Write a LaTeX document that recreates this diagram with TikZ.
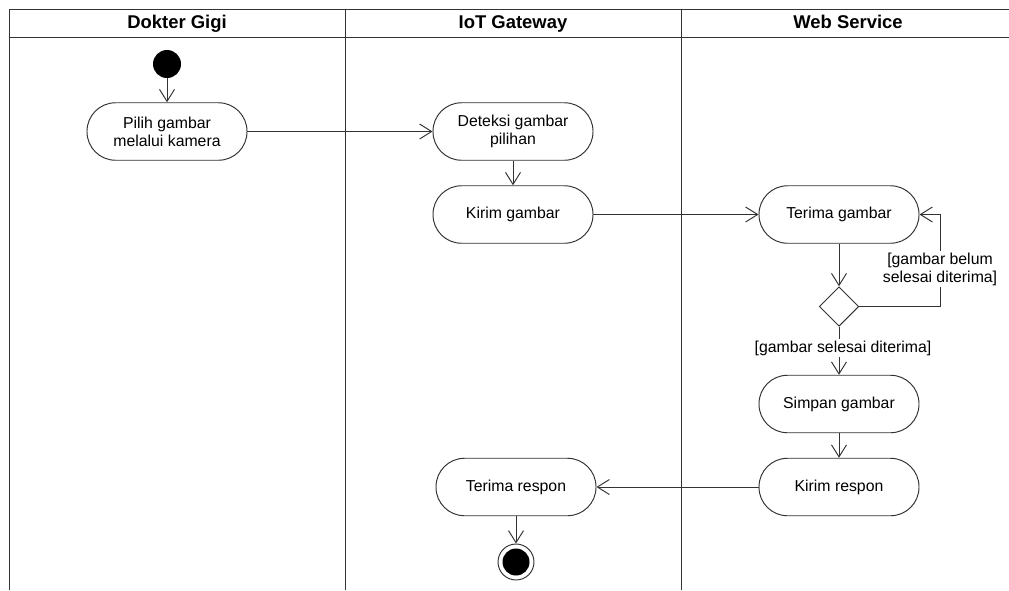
\documentclass[tikz,border=0pt]{standalone}
\usepackage{fontspec}
\setmainfont{Liberation Sans}
\usetikzlibrary{arrows.meta,shapes.geometric}

\tikzset{
	garis/.style={draw=black!80, line width=0.55pt},
	aksi/.style={garis, rectangle, rounded corners=0.57cm, minimum width=3.2cm, minimum height=1.15cm, align=center, font=\fontsize{9}{10.3}\selectfont, fill=white},
	mulai/.style={circle, fill=black, minimum size=0.56cm, inner sep=0pt},
	akhir/.style={circle, garis, fill=white, minimum size=0.72cm, inner sep=0pt, path picture={\fill[black] (path picture bounding box.center) circle (0.27);}},
	keputusan/.style={garis, diamond, minimum size=0.79cm, inner sep=0pt},
	judul/.style={anchor=base, font=\fontsize{10.5}{12}\selectfont\bfseries},
	syarat/.style={fill=white, align=center, inner sep=1pt, font=\fontsize{9}{10.3}\selectfont},
	panah/.style={garis, -{Straight Barb[length=2.4mm,width=3mm,line width=0.55pt]}}
}

\begin{document}
\begin{tikzpicture}
				\useasboundingbox (0,0) rectangle (20.18,-11.8);
				% swimlanes
				\draw[garis] (20.18,-0.18) -- (0.18,-0.18) -- (0.18,-11.8);
				\draw[garis] (0.18,-0.74) -- (20.18,-0.74);
				\draw[garis] (6.9,-0.18) -- (6.9,-11.8);
				\draw[garis] (13.62,-0.18) -- (13.62,-11.8);
				\node[judul] (lane1) at (3.54,-0.57) {Dokter Gigi};
				\node[judul] (lane2) at (10.26,-0.57) {IoT Gateway};
				\node[judul] (lane3) at (16.96,-0.57) {Web Service};
				
				% nodes
				\node[mulai] (start) at (3.34,-1.28) {};
				\node[aksi] (pilih) at (3.34,-2.63) {Pilih gambar\\melalui kamera};
				\node[aksi] (deteksi) at (10.26,-2.63) {Deteksi gambar\\pilihan};
				\node[aksi] (kirim) at (10.26,-4.29) {Kirim gambar};
				\node[aksi] (terima) at (16.78,-4.29) {Terima gambar};
				\node[keputusan] (cek) at (16.78,-6.13) {};
				\node[aksi] (simpan) at (16.78,-8.08) {Simpan gambar};
				\node[aksi] (kirimrespon) at (16.78,-9.74) {Kirim respon};
				\node[aksi] (terimarespon) at (10.32,-9.74) {Terima respon};
				\node[akhir] (end) at (10.32,-11.24) {};
				\coordinate (ulang1) at (18.8,-6.13);
				\coordinate (ulang2) at (18.8,-4.29);
				
				% arrows
				\draw[panah] (start) -- (pilih);
				\draw[panah] (pilih) -- (deteksi);
				\draw[panah] (deteksi) -- (kirim);
				\draw[panah] (kirim) -- (terima);
				\draw[panah] (terima) -- (cek);
				\draw[panah] (cek.east) -- (ulang1) -- (ulang2) -- (terima.east);
				\draw[panah] (cek) -- (simpan);
				\draw[panah] (simpan) -- (kirimrespon);
				\draw[panah] (kirimrespon) -- (terimarespon);
				\draw[panah] (terimarespon) -- (end);
				
				\node[syarat] (belum) at (18.8,-5.38) {[gambar belum\\selesai diterima]};
				\node[syarat] (selesai) at (16.86,-6.96) {[gambar selesai diterima]};
\end{tikzpicture}
\end{document}
